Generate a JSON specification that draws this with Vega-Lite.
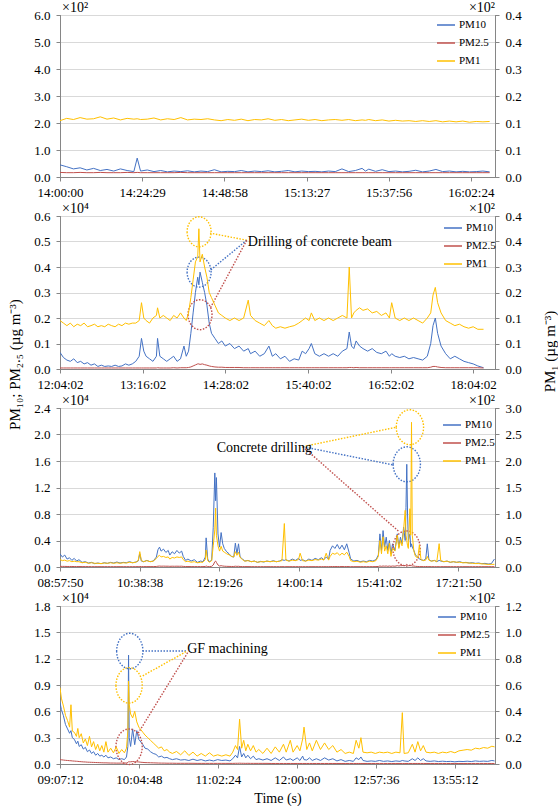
{
"$schema": "https://vega.github.io/schema/vega-lite/v6.json",
"background": "white",
"padding": {"left": 6, "top": 0, "right": 0, "bottom": 0},
"datasets": {
"p1": [
{"t":0,"PM10":45,"PM25":17,"PM1":14.6},{"t":2,"PM10":38,"PM25":16,"PM1":15.2},{"t":4,"PM10":30,"PM25":16,"PM1":14.9},{"t":6,"PM10":34,"PM25":17,"PM1":15.4},{"t":8,"PM10":26,"PM25":16,"PM1":15.0},{"t":10,"PM10":32,"PM25":16,"PM1":15.1},{"t":12,"PM10":24,"PM25":17,"PM1":15.6},{"t":14,"PM10":28,"PM25":16,"PM1":15.0},{"t":16,"PM10":22,"PM25":16,"PM1":15.3},{"t":18,"PM10":30,"PM25":16,"PM1":14.8},{"t":20,"PM10":24,"PM25":17,"PM1":15.2},{"t":22,"PM10":20,"PM25":16,"PM1":15.0},{"t":23,"PM10":70,"PM25":17,"PM1":15.1},{"t":24,"PM10":22,"PM25":16,"PM1":14.9},{"t":26,"PM10":26,"PM25":16,"PM1":15.0},{"t":28,"PM10":20,"PM25":16,"PM1":15.3},{"t":30,"PM10":24,"PM25":16,"PM1":14.8},{"t":32,"PM10":19,"PM25":16,"PM1":15.1},{"t":34,"PM10":22,"PM25":16,"PM1":14.9},{"t":36,"PM10":20,"PM25":17,"PM1":15.4},{"t":38,"PM10":23,"PM25":16,"PM1":14.8},{"t":40,"PM10":19,"PM25":16,"PM1":15.0},{"t":42,"PM10":22,"PM25":16,"PM1":14.9},{"t":44,"PM10":20,"PM25":16,"PM1":15.1},{"t":46,"PM10":27,"PM25":16,"PM1":14.8},{"t":48,"PM10":19,"PM25":16,"PM1":14.6},{"t":50,"PM10":21,"PM25":16,"PM1":14.9},{"t":52,"PM10":20,"PM25":16,"PM1":14.7},{"t":54,"PM10":24,"PM25":16,"PM1":15.0},{"t":56,"PM10":19,"PM25":16,"PM1":14.6},{"t":58,"PM10":22,"PM25":16,"PM1":14.9},{"t":60,"PM10":20,"PM25":16,"PM1":14.8},{"t":62,"PM10":23,"PM25":16,"PM1":15.1},{"t":64,"PM10":19,"PM25":16,"PM1":14.7},{"t":66,"PM10":21,"PM25":16,"PM1":14.9},{"t":68,"PM10":24,"PM25":16,"PM1":14.6},{"t":70,"PM10":19,"PM25":16,"PM1":14.8},{"t":72,"PM10":22,"PM25":16,"PM1":15.0},{"t":74,"PM10":20,"PM25":16,"PM1":14.7},{"t":76,"PM10":21,"PM25":16,"PM1":14.9},{"t":78,"PM10":19,"PM25":16,"PM1":14.6},{"t":80,"PM10":22,"PM25":16,"PM1":14.8},{"t":82,"PM10":20,"PM25":16,"PM1":14.9},{"t":84,"PM10":30,"PM25":16,"PM1":14.7},{"t":86,"PM10":20,"PM25":16,"PM1":14.9},{"t":88,"PM10":24,"PM25":16,"PM1":14.6},{"t":90,"PM10":32,"PM25":16,"PM1":14.8},{"t":91,"PM10":22,"PM25":16,"PM1":14.7},{"t":92,"PM10":29,"PM25":16,"PM1":14.9},{"t":94,"PM10":21,"PM25":16,"PM1":14.6},{"t":96,"PM10":27,"PM25":16,"PM1":14.8},{"t":98,"PM10":20,"PM25":16,"PM1":14.5},{"t":100,"PM10":22,"PM25":16,"PM1":14.7},{"t":102,"PM10":19,"PM25":16,"PM1":14.5},{"t":104,"PM10":21,"PM25":16,"PM1":14.6},{"t":106,"PM10":25,"PM25":16,"PM1":14.4},{"t":108,"PM10":19,"PM25":16,"PM1":14.6},{"t":110,"PM10":22,"PM25":16,"PM1":14.4},{"t":112,"PM10":28,"PM25":16,"PM1":14.6},{"t":114,"PM10":20,"PM25":16,"PM1":14.3},{"t":116,"PM10":22,"PM25":16,"PM1":14.5},{"t":118,"PM10":19,"PM25":16,"PM1":14.3},{"t":120,"PM10":21,"PM25":16,"PM1":14.5},{"t":122,"PM10":19,"PM25":16,"PM1":14.2},{"t":124,"PM10":20,"PM25":16,"PM1":14.4},{"t":126,"PM10":22,"PM25":16,"PM1":14.3},{"t":128,"PM10":19,"PM25":16,"PM1":14.4}
],
"p2": [
{"t":0,"PM10":650,"PM25":40,"PM1":13.3},{"t":3,"PM10":450,"PM25":40,"PM1":12.6},{"t":6,"PM10":350,"PM25":40,"PM1":11.9},{"t":9,"PM10":300,"PM25":40,"PM1":12.6},{"t":12,"PM10":400,"PM25":40,"PM1":11.6},{"t":15,"PM10":250,"PM25":40,"PM1":12.3},{"t":18,"PM10":300,"PM25":40,"PM1":11.9},{"t":21,"PM10":200,"PM25":40,"PM1":12.6},{"t":24,"PM10":250,"PM25":40,"PM1":11.6},{"t":27,"PM10":150,"PM25":40,"PM1":11.9},{"t":30,"PM10":200,"PM25":40,"PM1":12.3},{"t":33,"PM10":100,"PM25":40,"PM1":11.6},{"t":36,"PM10":150,"PM25":40,"PM1":11.9},{"t":39,"PM10":100,"PM25":40,"PM1":11.6},{"t":42,"PM10":120,"PM25":40,"PM1":12.3},{"t":45,"PM10":100,"PM25":40,"PM1":11.9},{"t":48,"PM10":150,"PM25":40,"PM1":11.6},{"t":51,"PM10":100,"PM25":40,"PM1":12.3},{"t":54,"PM10":120,"PM25":40,"PM1":11.9},{"t":57,"PM10":200,"PM25":40,"PM1":12.6},{"t":60,"PM10":150,"PM25":40,"PM1":12.3},{"t":63,"PM10":200,"PM25":40,"PM1":12.6},{"t":66,"PM10":300,"PM25":40,"PM1":12.6},{"t":69,"PM10":500,"PM25":40,"PM1":13.3},{"t":71,"PM10":1200,"PM25":40,"PM1":18.2},{"t":73,"PM10":700,"PM25":40,"PM1":14.0},{"t":75,"PM10":500,"PM25":40,"PM1":13.3},{"t":78,"PM10":400,"PM25":40,"PM1":12.6},{"t":81,"PM10":300,"PM25":40,"PM1":14.0},{"t":84,"PM10":500,"PM25":40,"PM1":14.7},{"t":85,"PM10":1200,"PM25":50,"PM1":16.8},{"t":87,"PM10":500,"PM25":40,"PM1":14.0},{"t":90,"PM10":400,"PM25":40,"PM1":14.7},{"t":93,"PM10":300,"PM25":40,"PM1":14.0},{"t":96,"PM10":400,"PM25":40,"PM1":13.3},{"t":99,"PM10":500,"PM25":50,"PM1":14.7},{"t":102,"PM10":300,"PM25":40,"PM1":14.0},{"t":105,"PM10":400,"PM25":50,"PM1":15.4},{"t":108,"PM10":900,"PM25":50,"PM1":14.0},{"t":110,"PM10":500,"PM25":50,"PM1":13.3},{"t":112,"PM10":700,"PM25":60,"PM1":15.4},{"t":114,"PM10":1400,"PM25":80,"PM1":19.6},{"t":116,"PM10":2200,"PM25":120,"PM1":24.5},{"t":118,"PM10":3000,"PM25":160,"PM1":29.4},{"t":120,"PM10":3600,"PM25":200,"PM1":30.8},{"t":121,"PM10":3300,"PM25":200,"PM1":38.5},{"t":122,"PM10":3800,"PM25":180,"PM1":29.4},{"t":124,"PM10":3400,"PM25":200,"PM1":31.5},{"t":126,"PM10":3000,"PM25":170,"PM1":28.0},{"t":128,"PM10":2500,"PM25":150,"PM1":25.2},{"t":130,"PM10":1800,"PM25":120,"PM1":21.0},{"t":132,"PM10":1400,"PM25":100,"PM1":19.6},{"t":135,"PM10":1200,"PM25":80,"PM1":17.5},{"t":138,"PM10":1000,"PM25":70,"PM1":15.4},{"t":141,"PM10":1100,"PM25":70,"PM1":14.7},{"t":144,"PM10":900,"PM25":60,"PM1":14.0},{"t":148,"PM10":1000,"PM25":60,"PM1":13.3},{"t":152,"PM10":800,"PM25":60,"PM1":14.0},{"t":156,"PM10":900,"PM25":60,"PM1":13.3},{"t":160,"PM10":700,"PM25":50,"PM1":14.0},{"t":164,"PM10":800,"PM25":50,"PM1":18.9},{"t":166,"PM10":600,"PM25":50,"PM1":14.7},{"t":170,"PM10":700,"PM25":50,"PM1":13.3},{"t":174,"PM10":500,"PM25":50,"PM1":12.6},{"t":178,"PM10":600,"PM25":50,"PM1":11.9},{"t":182,"PM10":900,"PM25":50,"PM1":13.3},{"t":185,"PM10":500,"PM25":50,"PM1":11.9},{"t":188,"PM10":600,"PM25":50,"PM1":11.2},{"t":192,"PM10":400,"PM25":50,"PM1":11.6},{"t":196,"PM10":500,"PM25":50,"PM1":11.2},{"t":200,"PM10":300,"PM25":50,"PM1":11.6},{"t":204,"PM10":400,"PM25":50,"PM1":11.9},{"t":208,"PM10":350,"PM25":50,"PM1":12.6},{"t":211,"PM10":700,"PM25":50,"PM1":13.3},{"t":214,"PM10":600,"PM25":50,"PM1":14.0},{"t":217,"PM10":800,"PM25":50,"PM1":13.3},{"t":219,"PM10":1000,"PM25":50,"PM1":15.4},{"t":222,"PM10":600,"PM25":50,"PM1":13.3},{"t":226,"PM10":500,"PM25":50,"PM1":14.0},{"t":230,"PM10":600,"PM25":50,"PM1":13.3},{"t":234,"PM10":500,"PM25":50,"PM1":14.0},{"t":238,"PM10":600,"PM25":50,"PM1":13.3},{"t":242,"PM10":500,"PM25":50,"PM1":14.0},{"t":246,"PM10":700,"PM25":50,"PM1":14.7},{"t":250,"PM10":800,"PM25":50,"PM1":14.0},{"t":252,"PM10":1450,"PM25":60,"PM1":28.0},{"t":254,"PM10":900,"PM25":60,"PM1":14.0},{"t":256,"PM10":800,"PM25":50,"PM1":15.4},{"t":258,"PM10":1100,"PM25":60,"PM1":16.1},{"t":261,"PM10":900,"PM25":50,"PM1":16.8},{"t":264,"PM10":800,"PM25":50,"PM1":16.1},{"t":268,"PM10":700,"PM25":50,"PM1":16.5},{"t":272,"PM10":800,"PM25":50,"PM1":15.4},{"t":276,"PM10":650,"PM25":50,"PM1":15.8},{"t":280,"PM10":600,"PM25":50,"PM1":14.7},{"t":284,"PM10":700,"PM25":50,"PM1":15.4},{"t":287,"PM10":500,"PM25":50,"PM1":14.0},{"t":289,"PM10":600,"PM25":50,"PM1":18.2},{"t":292,"PM10":500,"PM25":50,"PM1":14.0},{"t":296,"PM10":450,"PM25":50,"PM1":13.3},{"t":300,"PM10":500,"PM25":50,"PM1":14.0},{"t":304,"PM10":400,"PM25":50,"PM1":13.3},{"t":308,"PM10":450,"PM25":50,"PM1":14.0},{"t":312,"PM10":400,"PM25":50,"PM1":13.3},{"t":316,"PM10":350,"PM25":50,"PM1":12.6},{"t":320,"PM10":500,"PM25":50,"PM1":14.0},{"t":323,"PM10":1000,"PM25":70,"PM1":15.4},{"t":325,"PM10":1700,"PM25":100,"PM1":20.3},{"t":327,"PM10":2000,"PM25":100,"PM1":22.4},{"t":329,"PM10":1400,"PM25":80,"PM1":18.2},{"t":332,"PM10":900,"PM25":60,"PM1":15.4},{"t":336,"PM10":600,"PM25":50,"PM1":13.3},{"t":340,"PM10":400,"PM25":50,"PM1":12.6},{"t":344,"PM10":500,"PM25":50,"PM1":11.9},{"t":348,"PM10":400,"PM25":50,"PM1":12.3},{"t":352,"PM10":300,"PM25":50,"PM1":11.6},{"t":356,"PM10":250,"PM25":50,"PM1":11.2},{"t":360,"PM10":200,"PM25":50,"PM1":11.6},{"t":364,"PM10":120,"PM25":50,"PM1":10.9},{"t":369,"PM10":50,"PM25":40,"PM1":10.9}
],
"p3": [
{"t":0,"PM10":2000,"PM25":100,"PM1":14},{"t":3,"PM10":1500,"PM25":90,"PM1":12},{"t":6,"PM10":1800,"PM25":90,"PM1":13},{"t":9,"PM10":1200,"PM25":80,"PM1":11},{"t":12,"PM10":1400,"PM25":80,"PM1":12},{"t":15,"PM10":1000,"PM25":80,"PM1":10},{"t":18,"PM10":1300,"PM25":70,"PM1":11},{"t":21,"PM10":900,"PM25":70,"PM1":10},{"t":24,"PM10":1100,"PM25":70,"PM1":10},{"t":28,"PM10":700,"PM25":60,"PM1":8},{"t":32,"PM10":800,"PM25":60,"PM1":9},{"t":36,"PM10":600,"PM25":60,"PM1":7},{"t":40,"PM10":700,"PM25":50,"PM1":8},{"t":44,"PM10":500,"PM25":50,"PM1":7},{"t":48,"PM10":600,"PM25":50,"PM1":7},{"t":52,"PM10":500,"PM25":50,"PM1":6.5},{"t":56,"PM10":650,"PM25":50,"PM1":7.5},{"t":60,"PM10":550,"PM25":50,"PM1":7},{"t":64,"PM10":700,"PM25":50,"PM1":8},{"t":68,"PM10":600,"PM25":50,"PM1":7},{"t":72,"PM10":750,"PM25":50,"PM1":8},{"t":76,"PM10":600,"PM25":50,"PM1":7},{"t":80,"PM10":700,"PM25":50,"PM1":8},{"t":84,"PM10":650,"PM25":50,"PM1":7.5},{"t":88,"PM10":800,"PM25":50,"PM1":9},{"t":92,"PM10":650,"PM25":50,"PM1":8},{"t":96,"PM10":750,"PM25":50,"PM1":9},{"t":99,"PM10":900,"PM25":60,"PM1":12},{"t":101,"PM10":2000,"PM25":80,"PM1":29},{"t":103,"PM10":900,"PM25":60,"PM1":12},{"t":106,"PM10":800,"PM25":60,"PM1":10},{"t":110,"PM10":1000,"PM25":60,"PM1":12},{"t":114,"PM10":800,"PM25":60,"PM1":10},{"t":118,"PM10":900,"PM25":60,"PM1":11},{"t":122,"PM10":1500,"PM25":80,"PM1":16},{"t":124,"PM10":2600,"PM25":120,"PM1":20},{"t":126,"PM10":3000,"PM25":140,"PM1":22},{"t":128,"PM10":2400,"PM25":120,"PM1":19},{"t":131,"PM10":2700,"PM25":130,"PM1":20},{"t":134,"PM10":2200,"PM25":120,"PM1":18},{"t":137,"PM10":2500,"PM25":120,"PM1":19},{"t":139,"PM10":1800,"PM25":100,"PM1":15},{"t":142,"PM10":2300,"PM25":120,"PM1":18},{"t":145,"PM10":2000,"PM25":110,"PM1":17},{"t":148,"PM10":2500,"PM25":120,"PM1":19},{"t":151,"PM10":2100,"PM25":110,"PM1":18},{"t":154,"PM10":2400,"PM25":120,"PM1":19},{"t":156,"PM10":1600,"PM25":90,"PM1":14},{"t":159,"PM10":1000,"PM25":70,"PM1":10},{"t":162,"PM10":1200,"PM25":70,"PM1":11},{"t":166,"PM10":900,"PM25":60,"PM1":9},{"t":170,"PM10":1100,"PM25":60,"PM1":10},{"t":174,"PM10":700,"PM25":60,"PM1":8},{"t":178,"PM10":900,"PM25":60,"PM1":9},{"t":181,"PM10":800,"PM25":60,"PM1":9},{"t":184,"PM10":1500,"PM25":80,"PM1":14},{"t":185,"PM10":4400,"PM25":150,"PM1":32},{"t":187,"PM10":1200,"PM25":70,"PM1":12},{"t":189,"PM10":800,"PM25":60,"PM1":9},{"t":192,"PM10":1000,"PM25":100,"PM1":12},{"t":194,"PM10":6000,"PM25":300,"PM1":40},{"t":196,"PM10":14200,"PM25":800,"PM1":70},{"t":197,"PM10":10000,"PM25":900,"PM1":111},{"t":198,"PM10":13500,"PM25":700,"PM1":60},{"t":200,"PM10":5000,"PM25":300,"PM1":40},{"t":202,"PM10":3000,"PM25":150,"PM1":30},{"t":204,"PM10":5200,"PM25":200,"PM1":39},{"t":206,"PM10":3500,"PM25":150,"PM1":30},{"t":208,"PM10":2800,"PM25":120,"PM1":28},{"t":211,"PM10":2300,"PM25":100,"PM1":25},{"t":214,"PM10":2000,"PM25":90,"PM1":23},{"t":217,"PM10":1600,"PM25":80,"PM1":20},{"t":220,"PM10":1500,"PM25":80,"PM1":19},{"t":222,"PM10":3600,"PM25":120,"PM1":29},{"t":224,"PM10":2000,"PM25":90,"PM1":22},{"t":226,"PM10":3500,"PM25":110,"PM1":28},{"t":228,"PM10":1500,"PM25":70,"PM1":18},{"t":231,"PM10":1200,"PM25":60,"PM1":14},{"t":234,"PM10":900,"PM25":60,"PM1":11},{"t":238,"PM10":1000,"PM25":60,"PM1":12},{"t":242,"PM10":800,"PM25":50,"PM1":10},{"t":246,"PM10":900,"PM25":50,"PM1":11},{"t":250,"PM10":700,"PM25":50,"PM1":9},{"t":254,"PM10":850,"PM25":50,"PM1":10},{"t":258,"PM10":750,"PM25":50,"PM1":10},{"t":262,"PM10":900,"PM25":50,"PM1":11},{"t":266,"PM10":800,"PM25":50,"PM1":10},{"t":270,"PM10":950,"PM25":50,"PM1":11},{"t":274,"PM10":800,"PM25":50,"PM1":10},{"t":278,"PM10":900,"PM25":50,"PM1":11},{"t":281,"PM10":1100,"PM25":50,"PM1":12},{"t":284,"PM10":1000,"PM25":50,"PM1":82},{"t":286,"PM10":1100,"PM25":50,"PM1":13},{"t":290,"PM10":900,"PM25":50,"PM1":11},{"t":294,"PM10":1200,"PM25":50,"PM1":13},{"t":298,"PM10":1000,"PM25":50,"PM1":12},{"t":302,"PM10":1300,"PM25":50,"PM1":14},{"t":304,"PM10":1000,"PM25":50,"PM1":26},{"t":307,"PM10":1100,"PM25":50,"PM1":12},{"t":311,"PM10":900,"PM25":50,"PM1":11},{"t":315,"PM10":1200,"PM25":50,"PM1":13},{"t":319,"PM10":1000,"PM25":50,"PM1":12},{"t":323,"PM10":1300,"PM25":50,"PM1":14},{"t":327,"PM10":1100,"PM25":50,"PM1":13},{"t":331,"PM10":1400,"PM25":50,"PM1":15},{"t":334,"PM10":1100,"PM25":50,"PM1":13},{"t":337,"PM10":1500,"PM25":50,"PM1":26},{"t":340,"PM10":1200,"PM25":50,"PM1":13},{"t":342,"PM10":2500,"PM25":60,"PM1":20},{"t":345,"PM10":3200,"PM25":70,"PM1":26},{"t":348,"PM10":2800,"PM25":60,"PM1":24},{"t":351,"PM10":3400,"PM25":70,"PM1":27},{"t":354,"PM10":2700,"PM25":60,"PM1":22},{"t":357,"PM10":3300,"PM25":70,"PM1":26},{"t":360,"PM10":2600,"PM25":60,"PM1":23},{"t":363,"PM10":3500,"PM25":70,"PM1":28},{"t":366,"PM10":2200,"PM25":60,"PM1":20},{"t":368,"PM10":1200,"PM25":50,"PM1":12},{"t":372,"PM10":900,"PM25":50,"PM1":10},{"t":376,"PM10":1000,"PM25":50,"PM1":11},{"t":380,"PM10":800,"PM25":50,"PM1":9},{"t":384,"PM10":900,"PM25":50,"PM1":10},{"t":388,"PM10":800,"PM25":50,"PM1":9},{"t":392,"PM10":1000,"PM25":50,"PM1":11},{"t":396,"PM10":900,"PM25":50,"PM1":10},{"t":400,"PM10":1100,"PM25":60,"PM1":12},{"t":403,"PM10":1800,"PM25":80,"PM1":20},{"t":405,"PM10":5000,"PM25":150,"PM1":50},{"t":407,"PM10":2500,"PM25":100,"PM1":25},{"t":409,"PM10":5500,"PM25":150,"PM1":57},{"t":411,"PM10":3000,"PM25":120,"PM1":30},{"t":413,"PM10":4500,"PM25":150,"PM1":40},{"t":415,"PM10":2500,"PM25":100,"PM1":25},{"t":417,"PM10":4000,"PM25":150,"PM1":45},{"t":419,"PM10":2000,"PM25":100,"PM1":20},{"t":421,"PM10":3500,"PM25":150,"PM1":35},{"t":424,"PM10":2500,"PM25":120,"PM1":30},{"t":427,"PM10":5000,"PM25":200,"PM1":60},{"t":429,"PM10":3000,"PM25":150,"PM1":35},{"t":431,"PM10":4500,"PM25":200,"PM1":50},{"t":433,"PM10":3500,"PM25":200,"PM1":40},{"t":435,"PM10":6000,"PM25":250,"PM1":70},{"t":437,"PM10":4000,"PM25":200,"PM1":107},{"t":438,"PM10":9000,"PM25":300,"PM1":60},{"t":439,"PM10":15500,"PM25":400,"PM1":50},{"t":440,"PM10":8000,"PM25":300,"PM1":40},{"t":441,"PM10":4000,"PM25":200,"PM1":35},{"t":443,"PM10":5000,"PM25":250,"PM1":110},{"t":444,"PM10":3000,"PM25":200,"PM1":60},{"t":445,"PM10":3500,"PM25":200,"PM1":273},{"t":446,"PM10":3000,"PM25":150,"PM1":60},{"t":448,"PM10":2500,"PM25":150,"PM1":30},{"t":450,"PM10":1800,"PM25":100,"PM1":20},{"t":453,"PM10":1500,"PM25":80,"PM1":17},{"t":455,"PM10":1200,"PM25":70,"PM1":42},{"t":457,"PM10":1100,"PM25":60,"PM1":14},{"t":460,"PM10":1000,"PM25":60,"PM1":12},{"t":463,"PM10":1200,"PM25":60,"PM1":13},{"t":465,"PM10":3500,"PM25":80,"PM1":20},{"t":467,"PM10":1100,"PM25":60,"PM1":13},{"t":470,"PM10":900,"PM25":50,"PM1":11},{"t":474,"PM10":1000,"PM25":50,"PM1":12},{"t":477,"PM10":800,"PM25":50,"PM1":10},{"t":480,"PM10":1000,"PM25":50,"PM1":44},{"t":482,"PM10":900,"PM25":50,"PM1":12},{"t":486,"PM10":800,"PM25":50,"PM1":10},{"t":490,"PM10":900,"PM25":50,"PM1":11},{"t":494,"PM10":700,"PM25":50,"PM1":9},{"t":498,"PM10":800,"PM25":50,"PM1":10},{"t":502,"PM10":700,"PM25":50,"PM1":9},{"t":506,"PM10":800,"PM25":50,"PM1":9},{"t":510,"PM10":650,"PM25":50,"PM1":8},{"t":514,"PM10":700,"PM25":50,"PM1":8},{"t":518,"PM10":600,"PM25":50,"PM1":7.5},{"t":522,"PM10":650,"PM25":50,"PM1":7},{"t":526,"PM10":550,"PM25":50,"PM1":6.5},{"t":530,"PM10":600,"PM25":50,"PM1":6.5},{"t":534,"PM10":500,"PM25":50,"PM1":6},{"t":538,"PM10":550,"PM25":50,"PM1":5.5},{"t":542,"PM10":450,"PM25":50,"PM1":5},{"t":546,"PM10":500,"PM25":50,"PM1":5},{"t":550,"PM10":1200,"PM25":50,"PM1":5}
],
"p4": [
{"t":0,"PM10":7000,"PM25":500,"PM1":58},{"t":1,"PM10":6200,"PM25":480,"PM1":50},{"t":2.5,"PM10":5500,"PM25":450,"PM1":44},{"t":4,"PM10":4500,"PM25":420,"PM1":37},{"t":5.5,"PM10":4000,"PM25":400,"PM1":33},{"t":7,"PM10":3500,"PM25":380,"PM1":28},{"t":8,"PM10":3800,"PM25":370,"PM1":45},{"t":9,"PM10":3000,"PM25":350,"PM1":25},{"t":10.5,"PM10":2800,"PM25":330,"PM1":24},{"t":12,"PM10":2300,"PM25":310,"PM1":21},{"t":13,"PM10":2600,"PM25":300,"PM1":27},{"t":14,"PM10":2000,"PM25":280,"PM1":20},{"t":15.5,"PM10":2200,"PM25":260,"PM1":23},{"t":17,"PM10":1700,"PM25":240,"PM1":16},{"t":18.5,"PM10":1900,"PM25":230,"PM1":19},{"t":20,"PM10":1400,"PM25":210,"PM1":14},{"t":21.5,"PM10":1600,"PM25":200,"PM1":21},{"t":23,"PM10":1200,"PM25":190,"PM1":13},{"t":24.5,"PM10":1400,"PM25":180,"PM1":17},{"t":26,"PM10":1000,"PM25":170,"PM1":11},{"t":27.5,"PM10":1200,"PM25":160,"PM1":15},{"t":29,"PM10":900,"PM25":150,"PM1":10},{"t":30.5,"PM10":1000,"PM25":140,"PM1":14},{"t":32,"PM10":800,"PM25":130,"PM1":9},{"t":33.5,"PM10":1000,"PM25":130,"PM1":17},{"t":35,"PM10":700,"PM25":120,"PM1":9},{"t":37,"PM10":800,"PM25":110,"PM1":12},{"t":39,"PM10":600,"PM25":110,"PM1":8.5},{"t":41,"PM10":700,"PM25":100,"PM1":13},{"t":43,"PM10":500,"PM25":100,"PM1":8},{"t":45,"PM10":600,"PM25":100,"PM1":11},{"t":47,"PM10":500,"PM25":100,"PM1":8.5},{"t":48.5,"PM10":800,"PM25":120,"PM1":12},{"t":49.5,"PM10":2000,"PM25":180,"PM1":25},{"t":50,"PM10":12400,"PM25":250,"PM1":63},{"t":50.5,"PM10":3000,"PM25":250,"PM1":45},{"t":51.5,"PM10":2000,"PM25":250,"PM1":38},{"t":53,"PM10":4000,"PM25":280,"PM1":35},{"t":54.5,"PM10":2200,"PM25":260,"PM1":40},{"t":56,"PM10":3800,"PM25":250,"PM1":32},{"t":57.5,"PM10":2800,"PM25":230,"PM1":28},{"t":59,"PM10":2500,"PM25":200,"PM1":26},{"t":60.5,"PM10":2200,"PM25":180,"PM1":24},{"t":62,"PM10":1800,"PM25":160,"PM1":22},{"t":64,"PM10":1700,"PM25":150,"PM1":20},{"t":66,"PM10":1400,"PM25":140,"PM1":18},{"t":68,"PM10":1200,"PM25":130,"PM1":16},{"t":70,"PM10":1100,"PM25":120,"PM1":14},{"t":72,"PM10":800,"PM25":110,"PM1":12},{"t":74,"PM10":900,"PM25":100,"PM1":13},{"t":76,"PM10":700,"PM25":100,"PM1":10},{"t":78,"PM10":750,"PM25":90,"PM1":11},{"t":80,"PM10":600,"PM25":90,"PM1":9},{"t":82,"PM10":500,"PM25":90,"PM1":8},{"t":85,"PM10":600,"PM25":80,"PM1":9.5},{"t":88,"PM10":450,"PM25":80,"PM1":7},{"t":91,"PM10":500,"PM25":80,"PM1":10},{"t":94,"PM10":400,"PM25":80,"PM1":6.5},{"t":97,"PM10":550,"PM25":80,"PM1":9},{"t":100,"PM10":400,"PM25":70,"PM1":6},{"t":103,"PM10":500,"PM25":70,"PM1":8},{"t":106,"PM10":350,"PM25":70,"PM1":6},{"t":109,"PM10":450,"PM25":70,"PM1":8.5},{"t":112,"PM10":350,"PM25":70,"PM1":6},{"t":115,"PM10":500,"PM25":70,"PM1":7},{"t":118,"PM10":400,"PM25":70,"PM1":6},{"t":121,"PM10":450,"PM25":70,"PM1":7},{"t":124,"PM10":350,"PM25":70,"PM1":6},{"t":126,"PM10":600,"PM25":70,"PM1":9},{"t":128,"PM10":1000,"PM25":80,"PM1":14},{"t":129.5,"PM10":700,"PM25":80,"PM1":11},{"t":131,"PM10":2000,"PM25":90,"PM1":34},{"t":132.5,"PM10":800,"PM25":80,"PM1":12},{"t":134,"PM10":1200,"PM25":80,"PM1":18},{"t":135.5,"PM10":700,"PM25":70,"PM1":10},{"t":137,"PM10":1000,"PM25":80,"PM1":15},{"t":139,"PM10":600,"PM25":70,"PM1":10},{"t":141,"PM10":900,"PM25":70,"PM1":14},{"t":143,"PM10":500,"PM25":70,"PM1":9},{"t":145,"PM10":600,"PM25":70,"PM1":11},{"t":148,"PM10":450,"PM25":70,"PM1":8},{"t":151,"PM10":600,"PM25":70,"PM1":12},{"t":154,"PM10":400,"PM25":60,"PM1":8},{"t":157,"PM10":700,"PM25":60,"PM1":13},{"t":160,"PM10":400,"PM25":60,"PM1":9},{"t":163,"PM10":800,"PM25":60,"PM1":15},{"t":165,"PM10":450,"PM25":60,"PM1":9},{"t":168,"PM10":600,"PM25":60,"PM1":18},{"t":170,"PM10":400,"PM25":60,"PM1":9},{"t":173,"PM10":700,"PM25":60,"PM1":14},{"t":175,"PM10":400,"PM25":60,"PM1":10},{"t":177,"PM10":900,"PM25":60,"PM1":19},{"t":178,"PM10":500,"PM25":60,"PM1":28},{"t":180,"PM10":450,"PM25":60,"PM1":11},{"t":182,"PM10":700,"PM25":60,"PM1":16},{"t":184,"PM10":400,"PM25":60,"PM1":10},{"t":187,"PM10":600,"PM25":60,"PM1":18},{"t":190,"PM10":400,"PM25":60,"PM1":11},{"t":193,"PM10":700,"PM25":60,"PM1":16},{"t":196,"PM10":450,"PM25":60,"PM1":11},{"t":199,"PM10":600,"PM25":60,"PM1":14},{"t":202,"PM10":350,"PM25":60,"PM1":9},{"t":205,"PM10":500,"PM25":60,"PM1":11},{"t":208,"PM10":300,"PM25":60,"PM1":8},{"t":211,"PM10":400,"PM25":60,"PM1":9},{"t":214,"PM10":300,"PM25":60,"PM1":8},{"t":216,"PM10":700,"PM25":60,"PM1":18},{"t":218,"PM10":500,"PM25":60,"PM1":12},{"t":219.5,"PM10":800,"PM25":60,"PM1":20},{"t":221,"PM10":400,"PM25":60,"PM1":9},{"t":224,"PM10":300,"PM25":60,"PM1":8.5},{"t":227,"PM10":350,"PM25":60,"PM1":9},{"t":230,"PM10":300,"PM25":60,"PM1":8},{"t":233,"PM10":400,"PM25":60,"PM1":9},{"t":236,"PM10":300,"PM25":60,"PM1":8.5},{"t":239,"PM10":350,"PM25":60,"PM1":9},{"t":242,"PM10":280,"PM25":60,"PM1":8},{"t":245,"PM10":350,"PM25":60,"PM1":9},{"t":248,"PM10":300,"PM25":60,"PM1":8.5},{"t":249.7,"PM10":400,"PM25":60,"PM1":39},{"t":251,"PM10":350,"PM25":60,"PM1":8},{"t":254,"PM10":300,"PM25":60,"PM1":8.5},{"t":257,"PM10":600,"PM25":60,"PM1":15},{"t":259,"PM10":400,"PM25":60,"PM1":9},{"t":261,"PM10":700,"PM25":60,"PM1":17},{"t":263,"PM10":400,"PM25":60,"PM1":10},{"t":265,"PM10":600,"PM25":60,"PM1":14},{"t":267,"PM10":350,"PM25":60,"PM1":9},{"t":270,"PM10":300,"PM25":60,"PM1":8.5},{"t":273,"PM10":350,"PM25":60,"PM1":9},{"t":276,"PM10":280,"PM25":60,"PM1":8},{"t":279,"PM10":320,"PM25":60,"PM1":9},{"t":282,"PM10":280,"PM25":60,"PM1":8.5},{"t":285,"PM10":300,"PM25":60,"PM1":9.5},{"t":288,"PM10":250,"PM25":60,"PM1":8.5},{"t":291,"PM10":300,"PM25":60,"PM1":10},{"t":294,"PM10":280,"PM25":60,"PM1":10.5},{"t":297,"PM10":320,"PM25":60,"PM1":11},{"t":300,"PM10":280,"PM25":60,"PM1":10.5},{"t":303,"PM10":350,"PM25":60,"PM1":12},{"t":306,"PM10":300,"PM25":60,"PM1":11.5},{"t":309,"PM10":330,"PM25":60,"PM1":12.5},{"t":312,"PM10":300,"PM25":60,"PM1":12},{"t":315,"PM10":400,"PM25":60,"PM1":13.5},{"t":317,"PM10":350,"PM25":60,"PM1":13}
],
"ell": [
{"p":2,"s":"PM1","t":121.2,"y":5380},{"p":2,"s":"PM10","t":121.2,"y":3800},{"p":2,"s":"PM25","t":122,"y":2130},
{"p":3,"s":"PM1","t":443,"y":21100},{"p":3,"s":"PM10","t":439,"y":15500},{"p":3,"s":"PM25","t":438.7,"y":2800},
{"p":4,"s":"PM10","t":50.9,"y":12870},{"p":4,"s":"PM1","t":50.4,"y":8960},{"p":4,"s":"PM25","t":50.4,"y":1970}
],
"links": [
{"p":2,"s":"PM1","t":162.7,"y":5050,"t2":130.7,"y2":5330},{"p":2,"s":"PM10","t":162.7,"y":5050,"t2":129.8,"y2":3830},{"p":2,"s":"PM25","t":162.7,"y":5050,"t2":130.7,"y2":2370},
{"p":3,"s":"PM1","t":307.3,"y":18160,"t2":425.7,"y2":21100},{"p":3,"s":"PM10","t":307.3,"y":18160,"t2":422,"y2":15400},{"p":3,"s":"PM25","t":307.3,"y":18160,"t2":429.5,"y2":5300},
{"p":4,"s":"PM10","t":91.9,"y":12870,"t2":60.2,"y2":12870},{"p":4,"s":"PM1","t":91.9,"y":12790,"t2":60.2,"y2":10030},{"p":4,"s":"PM25","t":93.1,"y":12680,"t2":56.5,"y2":3380}
],
"notes": [
{"p":2,"t":163.6,"y":4970,"label":"Drilling of concrete beam"},
{"p":3,"t":198.3,"y":17960,"label":"Concrete drilling"},
{"p":4,"t":92.8,"y":13100,"label":"GF machining"}
]
},
"spacing": 39,
"bounds": "flush",
"resolve": {"scale": {"color": "independent"}},
"vconcat": [
{
"width": 435, "height": 162,
"layer": [
{"data": {"name": "p1"},
"transform": [{"fold": ["PM10","PM25"], "as": ["s","v"]}],
"mark": {"type": "line", "strokeWidth": 1, "clip": true},
"encoding": {
"x": {"field": "t", "type": "quantitative", "scale": {"domain": [0,129.6], "nice": false, "zero": false},
"axis": {"orient": "bottom", "values": [0,24.4833,48.9667,73.45,97.9333,122.4], "labelExpr": "['14:00:00','14:24:29','14:48:58','15:13:27','15:37:56','16:02:24'][round(datum.value/24.4833)]", "title": null}},
"y": {"field": "v", "type": "quantitative", "scale": {"domain": [0,600], "nice": false},
"axis": {"orient": "left", "values": [0,100,200,300,400,500,600], "labelExpr": "format(datum.value/100, '.1f')", "grid": true, "title": null}},
"color": {"field": "s", "type": "nominal", "scale": {"domain": ["PM10","PM25","PM1"], "range": ["#4472C4","#C0504D","#FFC000"]},
"legend": {"orient": "none", "legendX": 376, "legendY": 0, "title": null, "labelExpr": "datum.label == 'PM25' ? 'PM2.5' : datum.label"}}
}},
{"data": {"values": [{}]}, "mark": {"type": "text", "align": "left", "baseline": "alphabetic", "dx": 2, "dy": -3, "fontSize": 14},
"encoding": {"x": {"datum": 0, "type": "quantitative"}, "y": {"datum": 600, "type": "quantitative", "scale": {"domain": [0,600], "nice": false}, "axis": null}, "text": {"value": "×10²"}}},
{"data": {"values": [{}]}, "mark": {"type": "text", "align": "right", "baseline": "alphabetic", "dy": -3, "fontSize": 14},
"encoding": {"x": {"datum": 129.6, "type": "quantitative"}, "y": {"datum": 600, "type": "quantitative", "scale": {"domain": [0,600], "nice": false}, "axis": null}, "text": {"value": "×10²"}}},
{"data": {"name": "p1"},
"mark": {"type": "line", "strokeWidth": 1, "clip": true},
"encoding": {
"x": {"field": "t", "type": "quantitative"},
"y": {"field": "PM1", "type": "quantitative", "scale": {"domain": [0,42], "nice": false},
"axis": {"orient": "right", "values": [0,7,14,21,28,35,42], "labelExpr": "format(datum.value/100+0.000001, '.1f')", "title": null, "grid": false}},
"color": {"datum": "PM1", "type": "nominal", "legend": null}
}}
],
"resolve": {"scale": {"y": "independent"}}
},
{
"width": 435, "height": 153,
"layer": [
{"data": {"name": "p2"},
"transform": [{"fold": ["PM10","PM25"], "as": ["s","v"]}],
"mark": {"type": "line", "strokeWidth": 1, "clip": true},
"encoding": {
"x": {"field": "t", "type": "quantitative", "scale": {"domain": [0,379], "nice": false, "zero": false},
"axis": {"orient": "bottom", "values": [0,72,144,216,288,360], "labelExpr": "['12:04:02','13:16:02','14:28:02','15:40:02','16:52:02','18:04:02'][round(datum.value/72)]", "title": null}},
"y": {"field": "v", "type": "quantitative", "scale": {"domain": [0,6000], "nice": false},
"axis": {"orient": "left", "values": [0,1000,2000,3000,4000,5000,6000], "labelExpr": "format(datum.value/10000, '.1f')", "grid": true,
"title": "PM₁₀; PM₂.₅ (µg m⁻³)", "titleAngle": 270, "titleX": -46, "titleY": 148, "titleAlign": "center", "titleBaseline": "middle"}},
"color": {"field": "s", "type": "nominal", "scale": {"domain": ["PM10","PM25","PM1"], "range": ["#4472C4","#C0504D","#FFC000"]},
"legend": {"orient": "none", "legendX": 383, "legendY": 2, "title": null, "labelExpr": "datum.label == 'PM25' ? 'PM2.5' : datum.label"}}
}},
{"data": {"name": "ell"}, "transform": [{"filter": "datum.p == 2"}],
"mark": {"type": "point", "shape": "M-0.8,0A0.8,1 0 1,0 0.8,0A0.8,1 0 1,0 -0.8,0Z", "filled": false, "size": 900, "strokeWidth": 1.4, "strokeDash": [1.5,1.5], "opacity": 1},
"encoding": {"x": {"field": "t", "type": "quantitative"}, "y": {"field": "y", "type": "quantitative", "scale": {"domain": [0,6000], "nice": false}, "axis": null}, "color": {"field": "s", "type": "nominal", "legend": null}}},
{"data": {"name": "links"}, "transform": [{"filter": "datum.p == 2"}],
"mark": {"type": "rule", "strokeWidth": 1.4, "strokeDash": [1.5,1.5]},
"encoding": {"x": {"field": "t", "type": "quantitative"}, "y": {"field": "y", "type": "quantitative", "scale": {"domain": [0,6000], "nice": false}, "axis": null}, "x2": {"field": "t2"}, "y2": {"field": "y2"}, "color": {"field": "s", "type": "nominal", "legend": null}}},
{"data": {"name": "notes"}, "transform": [{"filter": "datum.p == 2"}],
"mark": {"type": "text", "align": "left", "baseline": "middle", "fontSize": 14},
"encoding": {"x": {"field": "t", "type": "quantitative"}, "y": {"field": "y", "type": "quantitative", "scale": {"domain": [0,6000], "nice": false}, "axis": null}, "text": {"field": "label"}}},
{"data": {"values": [{}]}, "mark": {"type": "text", "align": "left", "baseline": "alphabetic", "dx": 2, "dy": -3, "fontSize": 14},
"encoding": {"x": {"datum": 0, "type": "quantitative"}, "y": {"datum": 6000, "type": "quantitative", "scale": {"domain": [0,6000], "nice": false}, "axis": null}, "text": {"value": "×10⁴"}}},
{"data": {"values": [{}]}, "mark": {"type": "text", "align": "right", "baseline": "alphabetic", "dy": -3, "fontSize": 14},
"encoding": {"x": {"datum": 379, "type": "quantitative"}, "y": {"datum": 6000, "type": "quantitative", "scale": {"domain": [0,6000], "nice": false}, "axis": null}, "text": {"value": "×10²"}}},
{"data": {"name": "p2"},
"mark": {"type": "line", "strokeWidth": 1, "clip": true},
"encoding": {
"x": {"field": "t", "type": "quantitative"},
"y": {"field": "PM1", "type": "quantitative", "scale": {"domain": [0,42], "nice": false},
"axis": {"orient": "right", "values": [0,7,14,21,28,35,42], "labelExpr": "format(datum.value/100+0.000001, '.1f')", "grid": false,
"title": "PM₁ (µg m⁻³)", "titleAngle": 270, "titleX": 54, "titleY": 135, "titleAlign": "center", "titleBaseline": "middle"}},
"color": {"datum": "PM1", "type": "nominal", "legend": null}
}}
],
"resolve": {"scale": {"y": "independent"}}
},
{
"width": 435, "height": 159,
"layer": [
{"data": {"name": "p3"},
"transform": [{"fold": ["PM10","PM25"], "as": ["s","v"]}],
"mark": {"type": "line", "strokeWidth": 1, "clip": true},
"encoding": {
"x": {"field": "t", "type": "quantitative", "scale": {"domain": [0,550.7], "nice": false, "zero": false},
"axis": {"orient": "bottom", "values": [0,100.8,201.6,302.4,403.2,504], "labelExpr": "['08:57:50','10:38:38','12:19:26','14:00:14','15:41:02','17:21:50'][round(datum.value/100.8)]", "title": null}},
"y": {"field": "v", "type": "quantitative", "scale": {"domain": [0,24000], "nice": false},
"axis": {"orient": "left", "values": [0,4000,8000,12000,16000,20000,24000], "labelExpr": "format(datum.value/10000, '.1f')", "grid": true, "title": null}},
"color": {"field": "s", "type": "nominal", "scale": {"domain": ["PM10","PM25","PM1"], "range": ["#4472C4","#C0504D","#FFC000"]},
"legend": {"orient": "none", "legendX": 382, "legendY": 7, "title": null, "labelExpr": "datum.label == 'PM25' ? 'PM2.5' : datum.label"}}
}},
{"data": {"name": "ell"}, "transform": [{"filter": "datum.p == 3"}],
"mark": {"type": "point", "shape": "M-0.78,0A0.78,1 0 1,0 0.78,0A0.78,1 0 1,0 -0.78,0Z", "filled": false, "size": 1225, "strokeWidth": 1.4, "strokeDash": [1.5,1.5], "opacity": 1},
"encoding": {"x": {"field": "t", "type": "quantitative"}, "y": {"field": "y", "type": "quantitative", "scale": {"domain": [0,24000], "nice": false}, "axis": null}, "color": {"field": "s", "type": "nominal", "legend": null}}},
{"data": {"name": "links"}, "transform": [{"filter": "datum.p == 3"}],
"mark": {"type": "rule", "strokeWidth": 1.4, "strokeDash": [1.5,1.5]},
"encoding": {"x": {"field": "t", "type": "quantitative"}, "y": {"field": "y", "type": "quantitative", "scale": {"domain": [0,24000], "nice": false}, "axis": null}, "x2": {"field": "t2"}, "y2": {"field": "y2"}, "color": {"field": "s", "type": "nominal", "legend": null}}},
{"data": {"name": "notes"}, "transform": [{"filter": "datum.p == 3"}],
"mark": {"type": "text", "align": "left", "baseline": "middle", "fontSize": 14},
"encoding": {"x": {"field": "t", "type": "quantitative"}, "y": {"field": "y", "type": "quantitative", "scale": {"domain": [0,24000], "nice": false}, "axis": null}, "text": {"field": "label"}}},
{"data": {"values": [{}]}, "mark": {"type": "text", "align": "left", "baseline": "alphabetic", "dx": 2, "dy": -3, "fontSize": 14},
"encoding": {"x": {"datum": 0, "type": "quantitative"}, "y": {"datum": 24000, "type": "quantitative", "scale": {"domain": [0,24000], "nice": false}, "axis": null}, "text": {"value": "×10⁴"}}},
{"data": {"values": [{}]}, "mark": {"type": "text", "align": "right", "baseline": "alphabetic", "dy": -3, "fontSize": 14},
"encoding": {"x": {"datum": 550.7, "type": "quantitative"}, "y": {"datum": 24000, "type": "quantitative", "scale": {"domain": [0,24000], "nice": false}, "axis": null}, "text": {"value": "×10²"}}},
{"data": {"name": "p3"},
"mark": {"type": "line", "strokeWidth": 1, "clip": true},
"encoding": {
"x": {"field": "t", "type": "quantitative"},
"y": {"field": "PM1", "type": "quantitative", "scale": {"domain": [0,300], "nice": false},
"axis": {"orient": "right", "values": [0,50,100,150,200,250,300], "labelExpr": "format(datum.value/100, '.1f')", "title": null, "grid": false}},
"color": {"datum": "PM1", "type": "nominal", "legend": null}
}}
],
"resolve": {"scale": {"y": "independent"}}
},
{
"width": 435, "height": 158,
"layer": [
{"data": {"name": "p4"},
"transform": [{"fold": ["PM10","PM25"], "as": ["s","v"]}],
"mark": {"type": "line", "strokeWidth": 1, "clip": true},
"encoding": {
"x": {"field": "t", "type": "quantitative", "scale": {"domain": [0,317.3], "nice": false, "zero": false},
"axis": {"orient": "bottom", "values": [0,57.6,115.2,172.8,230.4,288], "labelExpr": "['09:07:12','10:04:48','11:02:24','12:00:00','12:57:36','13:55:12'][round(datum.value/57.6)]", "title": "Time (s)", "titleFontSize": 14, "titlePadding": 5}},
"y": {"field": "v", "type": "quantitative", "scale": {"domain": [0,18000], "nice": false},
"axis": {"orient": "left", "values": [0,3000,6000,9000,12000,15000,18000], "labelExpr": "format(datum.value/10000, '.1f')", "grid": true, "title": null}},
"color": {"field": "s", "type": "nominal", "scale": {"domain": ["PM10","PM25","PM1"], "range": ["#4472C4","#C0504D","#FFC000"]},
"legend": {"orient": "none", "legendX": 377, "legendY": 1, "title": null, "labelExpr": "datum.label == 'PM25' ? 'PM2.5' : datum.label"}}
}},
{"data": {"name": "ell"}, "transform": [{"filter": "datum.p == 4"}],
"mark": {"type": "point", "shape": "M-0.74,0A0.74,1 0 1,0 0.74,0A0.74,1 0 1,0 -0.74,0Z", "filled": false, "size": 1260, "strokeWidth": 1.4, "strokeDash": [1.5,1.5], "opacity": 1},
"encoding": {"x": {"field": "t", "type": "quantitative"}, "y": {"field": "y", "type": "quantitative", "scale": {"domain": [0,18000], "nice": false}, "axis": null}, "color": {"field": "s", "type": "nominal", "legend": null}}},
{"data": {"name": "links"}, "transform": [{"filter": "datum.p == 4"}],
"mark": {"type": "rule", "strokeWidth": 1.4, "strokeDash": [1.5,1.5]},
"encoding": {"x": {"field": "t", "type": "quantitative"}, "y": {"field": "y", "type": "quantitative", "scale": {"domain": [0,18000], "nice": false}, "axis": null}, "x2": {"field": "t2"}, "y2": {"field": "y2"}, "color": {"field": "s", "type": "nominal", "legend": null}}},
{"data": {"name": "notes"}, "transform": [{"filter": "datum.p == 4"}],
"mark": {"type": "text", "align": "left", "baseline": "middle", "fontSize": 14},
"encoding": {"x": {"field": "t", "type": "quantitative"}, "y": {"field": "y", "type": "quantitative", "scale": {"domain": [0,18000], "nice": false}, "axis": null}, "text": {"field": "label"}}},
{"data": {"values": [{}]}, "mark": {"type": "text", "align": "left", "baseline": "alphabetic", "dx": 2, "dy": -3, "fontSize": 14},
"encoding": {"x": {"datum": 0, "type": "quantitative"}, "y": {"datum": 18000, "type": "quantitative", "scale": {"domain": [0,18000], "nice": false}, "axis": null}, "text": {"value": "×10⁴"}}},
{"data": {"values": [{}]}, "mark": {"type": "text", "align": "right", "baseline": "alphabetic", "dy": -3, "fontSize": 14},
"encoding": {"x": {"datum": 317.3, "type": "quantitative"}, "y": {"datum": 18000, "type": "quantitative", "scale": {"domain": [0,18000], "nice": false}, "axis": null}, "text": {"value": "×10²"}}},
{"data": {"name": "p4"},
"mark": {"type": "line", "strokeWidth": 1, "clip": true},
"encoding": {
"x": {"field": "t", "type": "quantitative"},
"y": {"field": "PM1", "type": "quantitative", "scale": {"domain": [0,120], "nice": false},
"axis": {"orient": "right", "values": [0,20,40,60,80,100,120], "labelExpr": "format(datum.value/100, '.1f')", "title": null, "grid": false}},
"color": {"datum": "PM1", "type": "nominal", "legend": null}
}}
],
"resolve": {"scale": {"y": "independent"}}
}
],
"config": {
"font": "Liberation Serif",
"view": {"stroke": "#000000", "strokeWidth": 1},
"axis": {"labelFont": "Liberation Serif", "labelFontSize": 13, "labelColor": "#000000", "titleFont": "Liberation Serif", "titleFontSize": 15, "titleFontWeight": "normal", "titleColor": "#000000", "domainColor": "#868686", "tickColor": "#868686", "tickSize": 4, "grid": false, "gridColor": "#d9d9d9", "labelPadding": 5},
"axisX": {"labelFlush": false, "labelOverlap": false},
"axisY": {"labelPadding": 6},
"legend": {"symbolType": "stroke", "symbolSize": 324, "symbolStrokeWidth": 1.5, "labelFont": "Liberation Serif", "labelFontSize": 11, "labelColor": "#000000", "rowPadding": 3, "padding": 0, "labelOffset": 3},
"text": {"font": "Liberation Serif", "color": "#000000"}
}
}
